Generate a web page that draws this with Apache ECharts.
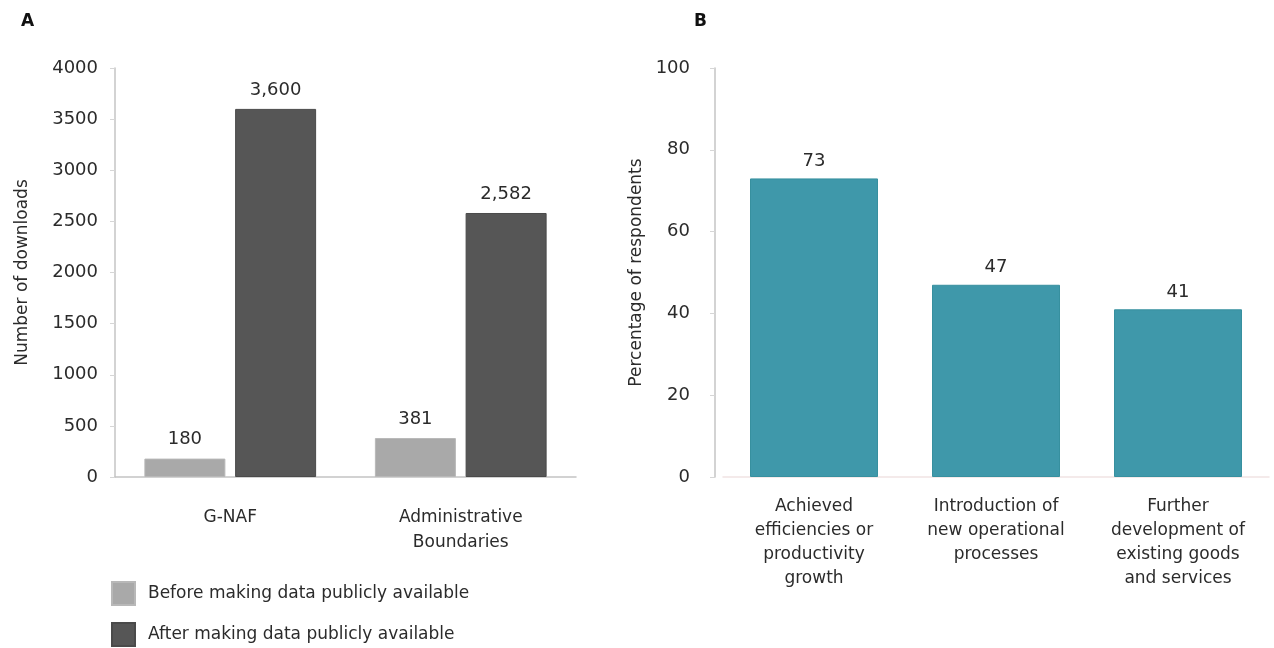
<!DOCTYPE html>
<html>
<head>
<meta charset="utf-8">
<script src="https://cdn.jsdelivr.net/npm/echarts@6/dist/echarts.min.js"></script>
<style>html,body{margin:0;padding:0;background:#fff;}#c{width:1274px;height:648px;}</style>
</head>
<body>
<div id="c"></div>
<script>
// Panel A
const catsA = ['G-NAF', 'Administrative\nBoundaries'];
const beforeA = [180, 381];
const afterA = [3600, 2582];
const seriesNamesA = ['Before making data publicly available', 'After making data publicly available'];
const ticksA = { min: 0, max: 4000, interval: 500 };
// Panel B
const catsB = ['Achieved\nefficiencies or\nproductivity\ngrowth', 'Introduction of\nnew operational\nprocesses', 'Further\ndevelopment of\nexisting goods\nand services'];
const valuesB = [73, 47, 41];
const ticksB = { min: 0, max: 100, interval: 20 };

const FONT = 'DejaVu Sans';
const TXT = '#2b2b2b';
const chart = echarts.init(document.getElementById('c'));
const fmt = p => Number(p.value).toLocaleString('en-US');

const axisY = (t, name, gi, gap, off, margin) => ({
  type: 'value', gridIndex: gi, min: t.min, max: t.max, interval: t.interval, offset: off,
  name: name, nameLocation: 'middle', nameGap: gap, nameRotate: 90,
  nameTextStyle: { fontFamily: FONT, fontSize: 17, color: TXT },
  axisLine: { show: true, lineStyle: { color: '#c4c4c4', width: 1.5 } },
  axisTick: { show: true, length: 5, lineStyle: { color: '#d6d6d6' } },
  splitLine: { show: false },
  axisLabel: { fontFamily: FONT, fontSize: 18, color: TXT, margin: margin, formatter: v => String(v) }
});

const legendItem = (i, top) => ({
  orient: 'vertical', left: 106, top: top, itemWidth: 23, itemHeight: 23,
  icon: 'rect', data: [seriesNamesA[i]],
  textStyle: { fontFamily: FONT, fontSize: 17, color: TXT, padding: [0, 0, 0, 8] }
});

chart.setOption({
  animation: false,
  backgroundColor: '#fff',
  graphic: [
    { type: 'text', left: 21, top: 13, style: { text: 'A', font: 'bold 17px "DejaVu Sans"', fill: '#111' } },
    { type: 'text', left: 694, top: 13, style: { text: 'B', font: 'bold 17px "DejaVu Sans"', fill: '#111' } }
  ],
  legend: [legendItem(0, 576), legendItem(1, 617)],
  grid: [
    { left: 115, top: 68, width: 461, height: 409 },
    { left: 723, top: 68, width: 546, height: 409 }
  ],
  xAxis: [
    { type: 'category', gridIndex: 0, data: catsA,
      axisLine: { lineStyle: { color: '#c4c4c4', width: 1.5 } }, axisTick: { show: false },
      axisLabel: { fontFamily: FONT, fontSize: 17, color: TXT, margin: 28, lineHeight: 25 } },
    { type: 'category', gridIndex: 1, data: catsB,
      axisLine: { lineStyle: { color: '#f1e4e4', width: 1.5 } }, axisTick: { show: false },
      axisLabel: { fontFamily: FONT, fontSize: 17, color: TXT, margin: 18, lineHeight: 24, interval: 0 } }
  ],
  yAxis: [
    axisY(ticksA, 'Number of downloads', 0, 84, 0, 17),
    axisY(ticksB, 'Percentage of respondents', 1, 70, 8, 25)
  ],
  series: [
    { name: seriesNamesA[0], type: 'bar', xAxisIndex: 0, yAxisIndex: 0, data: beforeA,
      barWidth: 81, barGap: '12%',
      itemStyle: { color: '#a9a9a9', borderColor: '#b8b8b8', borderWidth: 1 },
      label: { show: true, position: 'top', distance: 10, formatter: fmt, fontFamily: FONT, fontSize: 18, color: TXT } },
    { name: seriesNamesA[1], type: 'bar', xAxisIndex: 0, yAxisIndex: 0, data: afterA,
      barWidth: 81, barGap: '12%',
      itemStyle: { color: '#565656', borderColor: '#4a4a4a', borderWidth: 1 },
      label: { show: true, position: 'top', distance: 10, formatter: fmt, fontFamily: FONT, fontSize: 18, color: TXT } },
    { name: 'B', type: 'bar', xAxisIndex: 1, yAxisIndex: 1, data: valuesB,
      barWidth: 128,
      itemStyle: { color: '#3f98aa', borderColor: '#37909f', borderWidth: 1 },
      label: { show: true, position: 'top', distance: 8, formatter: fmt, fontFamily: FONT, fontSize: 18, color: TXT } }
  ]
});
</script>
</body>
</html>
